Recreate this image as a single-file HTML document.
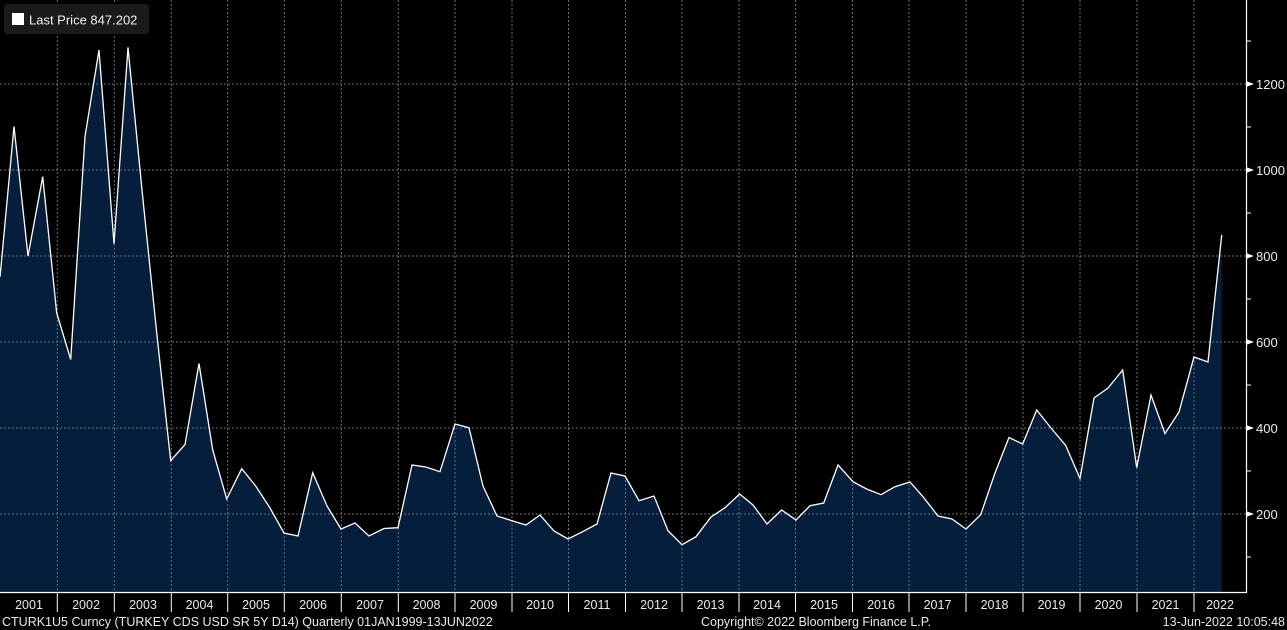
<!DOCTYPE html>
<html><head><style>
html,body{margin:0;padding:0;background:#000;}
svg{display:block;font-family:"Liberation Sans","DejaVu Sans",sans-serif;}
</style></head><body>
<svg width="1287" height="630" viewBox="0 0 1287 630" xmlns="http://www.w3.org/2000/svg">
<rect width="1287" height="630" fill="#000"/>
<polygon fill="#041e3b" points="0,592 0,277 14,126.5 28,256 42.7,176.7 56.7,313 70.7,359.4 85,136.5 99,50 114,243.8 128,47.4 142,190 156.4,330 170.7,460.6 185,444.6 199,363.5 212.7,449.8 226.7,499 241.7,468.7 255.7,486 270,508 284,533 298,536 312.7,472.7 327,506 341,529 355,523 369,536 384,528.5 398,527.7 412,465 425.7,467 440,471.7 455,424 469,427.7 483,486 497,516 512,520.7 526,525 540,515 554,531 568,539 582.6,531.7 597,524 611,473 625,476 639,500.7 654,496 668,530.7 682,544.7 696,536.7 711,517 725,507.7 739.6,494 753,505 767,524 781.6,510 796,520 810,505.7 823.7,503 838,465 853,481.7 866.6,489 881,494.7 895,486.7 910,482 923,496.7 938,516 952,519 966,529 980.7,514.7 995,473 1009,437.5 1022.7,444 1036.7,410 1051,428 1065.7,445.5 1080,478.5 1094,398 1108,388 1122.7,370 1136.7,467.6 1151,395 1165,433.5 1179,412 1194,357 1208,362 1221.7,235 1221.7,592"/>
<g stroke="#6a717a" stroke-width="1" stroke-dasharray="2,2" fill="none">
<line x1="0" y1="84" x2="1246" y2="84"/><line x1="0" y1="170" x2="1246" y2="170"/><line x1="0" y1="256" x2="1246" y2="256"/><line x1="0" y1="342" x2="1246" y2="342"/><line x1="0" y1="428" x2="1246" y2="428"/><line x1="0" y1="514" x2="1246" y2="514"/>
<line x1="57.3" y1="0" x2="57.3" y2="592"/><line x1="114.3" y1="0" x2="114.3" y2="592"/><line x1="171.3" y1="0" x2="171.3" y2="592"/><line x1="227.7" y1="0" x2="227.7" y2="592"/><line x1="284.3" y1="0" x2="284.3" y2="592"/><line x1="341.3" y1="0" x2="341.3" y2="592"/><line x1="398.3" y1="0" x2="398.3" y2="592"/><line x1="455" y1="0" x2="455" y2="592"/><line x1="512" y1="0" x2="512" y2="592"/><line x1="568.5" y1="0" x2="568.5" y2="592"/><line x1="625.5" y1="0" x2="625.5" y2="592"/><line x1="682" y1="0" x2="682" y2="592"/><line x1="739" y1="0" x2="739" y2="592"/><line x1="795.5" y1="0" x2="795.5" y2="592"/><line x1="852.5" y1="0" x2="852.5" y2="592"/><line x1="909" y1="0" x2="909" y2="592"/><line x1="966" y1="0" x2="966" y2="592"/><line x1="1023" y1="0" x2="1023" y2="592"/><line x1="1080" y1="0" x2="1080" y2="592"/><line x1="1137" y1="0" x2="1137" y2="592"/><line x1="1194" y1="0" x2="1194" y2="592"/>
</g>
<polyline fill="none" stroke="#ffffff" stroke-width="1.3" stroke-linejoin="miter" points="0,277 14,126.5 28,256 42.7,176.7 56.7,313 70.7,359.4 85,136.5 99,50 114,243.8 128,47.4 142,190 156.4,330 170.7,460.6 185,444.6 199,363.5 212.7,449.8 226.7,499 241.7,468.7 255.7,486 270,508 284,533 298,536 312.7,472.7 327,506 341,529 355,523 369,536 384,528.5 398,527.7 412,465 425.7,467 440,471.7 455,424 469,427.7 483,486 497,516 512,520.7 526,525 540,515 554,531 568,539 582.6,531.7 597,524 611,473 625,476 639,500.7 654,496 668,530.7 682,544.7 696,536.7 711,517 725,507.7 739.6,494 753,505 767,524 781.6,510 796,520 810,505.7 823.7,503 838,465 853,481.7 866.6,489 881,494.7 895,486.7 910,482 923,496.7 938,516 952,519 966,529 980.7,514.7 995,473 1009,437.5 1022.7,444 1036.7,410 1051,428 1065.7,445.5 1080,478.5 1094,398 1108,388 1122.7,370 1136.7,467.6 1151,395 1165,433.5 1179,412 1194,357 1208,362 1221.7,235"/>
<line x1="1246.5" y1="0" x2="1246.5" y2="593" stroke="#fff" stroke-width="1.2"/>
<line x1="0" y1="592.5" x2="1247" y2="592.5" stroke="#fff" stroke-width="1.2"/>
<g stroke="#fff" stroke-width="1">
<line x1="1246" y1="41" x2="1251" y2="41"/><line x1="1246" y1="127" x2="1251" y2="127"/><line x1="1246" y1="213" x2="1251" y2="213"/><line x1="1246" y1="299" x2="1251" y2="299"/><line x1="1246" y1="385" x2="1251" y2="385"/><line x1="1246" y1="471" x2="1251" y2="471"/><line x1="1246" y1="557" x2="1251" y2="557"/>
</g>
<g fill="#fff">
<polygon points="1246,81 1254,84 1246,87"/><polygon points="1246,167 1254,170 1246,173"/><polygon points="1246,253 1254,256 1246,259"/><polygon points="1246,339 1254,342 1246,345"/><polygon points="1246,425 1254,428 1246,431"/><polygon points="1246,511 1254,514 1246,517"/>
</g>
<g fill="#e8eaf0" font-size="13">
<text x="1256" y="89">1200</text><text x="1256" y="175">1000</text><text x="1256" y="261">800</text><text x="1256" y="347">600</text><text x="1256" y="433">400</text><text x="1256" y="519">200</text>
</g>
<g stroke="#fff" stroke-width="1">
<line x1="57.3" y1="593" x2="57.3" y2="612"/><line x1="114.3" y1="593" x2="114.3" y2="612"/><line x1="171.3" y1="593" x2="171.3" y2="612"/><line x1="227.7" y1="593" x2="227.7" y2="612"/><line x1="284.3" y1="593" x2="284.3" y2="612"/><line x1="341.3" y1="593" x2="341.3" y2="612"/><line x1="398.3" y1="593" x2="398.3" y2="612"/><line x1="455" y1="593" x2="455" y2="612"/><line x1="512" y1="593" x2="512" y2="612"/><line x1="568.5" y1="593" x2="568.5" y2="612"/><line x1="625.5" y1="593" x2="625.5" y2="612"/><line x1="682" y1="593" x2="682" y2="612"/><line x1="739" y1="593" x2="739" y2="612"/><line x1="795.5" y1="593" x2="795.5" y2="612"/><line x1="852.5" y1="593" x2="852.5" y2="612"/><line x1="909" y1="593" x2="909" y2="612"/><line x1="966" y1="593" x2="966" y2="612"/><line x1="1023" y1="593" x2="1023" y2="612"/><line x1="1080" y1="593" x2="1080" y2="612"/><line x1="1137" y1="593" x2="1137" y2="612"/><line x1="1194" y1="593" x2="1194" y2="612"/>
</g>
<g fill="#e8eaf0" font-size="12.5" text-anchor="middle">
<text x="29" y="609">2001</text><text x="86" y="609">2002</text><text x="143" y="609">2003</text><text x="199.5" y="609">2004</text><text x="256" y="609">2005</text><text x="313" y="609">2006</text><text x="370" y="609">2007</text><text x="426.5" y="609">2008</text><text x="483.5" y="609">2009</text><text x="540" y="609">2010</text><text x="597" y="609">2011</text><text x="654" y="609">2012</text><text x="710.5" y="609">2013</text><text x="767" y="609">2014</text><text x="824" y="609">2015</text><text x="881" y="609">2016</text><text x="937.5" y="609">2017</text><text x="994.5" y="609">2018</text><text x="1051.5" y="609">2019</text><text x="1108.5" y="609">2020</text><text x="1165.5" y="609">2021</text><text x="1220" y="609">2022</text>
</g>
<g fill="#e8eaf0" font-size="12.5">
<text x="2" y="626">CTURK1U5 Curncy (TURKEY CDS USD SR 5Y D14)  Quarterly 01JAN1999-13JUN2022</text>
<text x="701" y="626">Copyright© 2022 Bloomberg Finance L.P.</text>
<text x="1285" y="626" text-anchor="end">13-Jun-2022 10:05:48</text>
</g>
<rect x="4" y="4" width="145" height="30" rx="3" fill="#1a1a1a"/>
<rect x="12" y="13" width="12" height="12" fill="#fff"/>
<text x="29" y="24.5" fill="#f0f0f0" font-size="13">Last Price 847.202</text>
</svg>
</body></html>
